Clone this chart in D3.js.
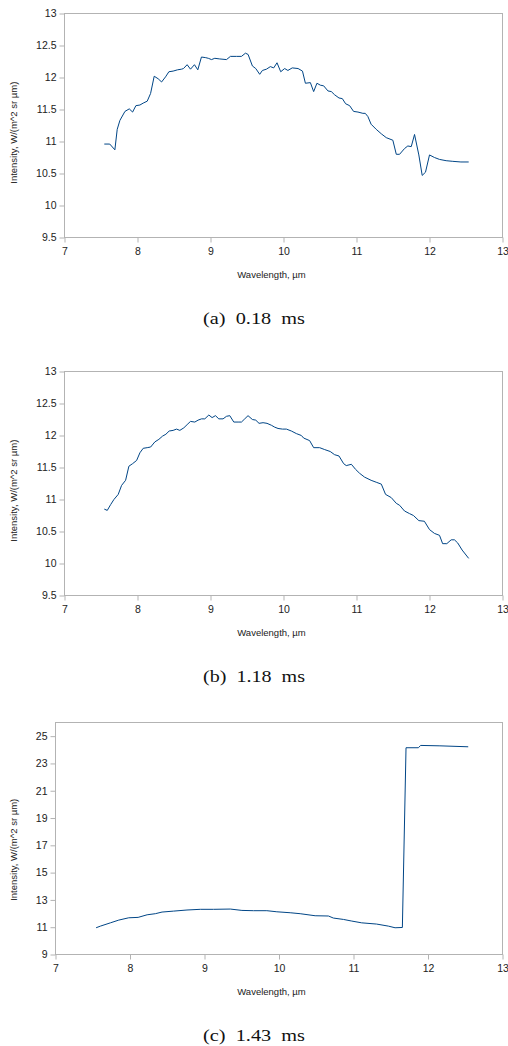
<!DOCTYPE html>
<html>
<head>
<meta charset="utf-8">
<script src="https://cdn.jsdelivr.net/npm/d3@7"></script>
<style>
  body { margin: 0; background: #fff; }
  svg { display: block; }
</style>
</head>
<body>
<svg id="canvas"></svg>
<script>
// wavelength (um) / intensity pairs
let wavelengthA = [7.545, 7.62, 7.69, 7.722, 7.759, 7.828, 7.887, 7.933, 7.978, 8.033, 8.078, 8.133, 8.179, 8.229, 8.283, 8.33, 8.384, 8.43, 8.488, 8.548, 8.603, 8.63, 8.68, 8.726, 8.78, 8.826, 8.876, 8.935, 8.97, 9.014, 9.059, 9.127, 9.219, 9.273, 9.355, 9.424, 9.479, 9.515, 9.574, 9.62, 9.674, 9.711, 9.766, 9.82, 9.866, 9.911, 9.962, 10.016, 10.06, 10.12, 10.2, 10.26, 10.30, 10.368, 10.413, 10.458, 10.505, 10.55, 10.609, 10.655, 10.70, 10.76, 10.806, 10.851, 10.906, 10.96, 11.02, 11.087, 11.12, 11.156, 11.2, 11.27, 11.34, 11.408, 11.498, 11.545, 11.59, 11.658, 11.703, 11.75, 11.795, 11.854, 11.9, 11.945, 12.0, 12.068, 12.137, 12.228, 12.319, 12.43, 12.537]
let intensityA = [10.96, 10.96, 10.87, 11.19, 11.33, 11.47, 11.51, 11.46, 11.56, 11.57, 11.60, 11.63, 11.75, 12.02, 11.98, 11.93, 12.01, 12.09, 12.10, 12.12, 12.13, 12.14, 12.20, 12.13, 12.20, 12.12, 12.32, 12.31, 12.30, 12.28, 12.30, 12.29, 12.28, 12.33, 12.33, 12.33, 12.38, 12.36, 12.18, 12.14, 12.05, 12.11, 12.13, 12.17, 12.15, 12.23, 12.09, 12.14, 12.11, 12.15, 12.14, 12.10, 11.91, 11.92, 11.78, 11.91, 11.88, 11.87, 11.79, 11.78, 11.73, 11.68, 11.67, 11.59, 11.56, 11.47, 11.46, 11.44, 11.44, 11.39, 11.27, 11.19, 11.12, 11.06, 11.02, 10.80, 10.80, 10.89, 10.93, 10.92, 11.11, 10.79, 10.47, 10.52, 10.79, 10.75, 10.72, 10.70, 10.69, 10.68, 10.68]

let wavelengthB = [7.545, 7.586, 7.632, 7.677, 7.736, 7.782, 7.837, 7.882, 7.933, 7.988, 8.033, 8.078, 8.133, 8.18, 8.238, 8.293, 8.343, 8.389, 8.434, 8.488, 8.535, 8.58, 8.635, 8.68, 8.726, 8.785, 8.83, 8.877, 8.922, 8.977, 9.022, 9.068, 9.114, 9.172, 9.219, 9.264, 9.319, 9.378, 9.424, 9.469, 9.514, 9.574, 9.62, 9.665, 9.72, 9.774, 9.834, 9.88, 9.925, 9.985, 10.04, 10.108, 10.176, 10.245, 10.276, 10.358, 10.413, 10.495, 10.564, 10.64, 10.70, 10.76, 10.824, 10.86, 10.93, 10.988, 11.042, 11.11, 11.2, 11.27, 11.34, 11.398, 11.476, 11.545, 11.59, 11.658, 11.726, 11.78, 11.854, 11.93, 12.0, 12.068, 12.137, 12.18, 12.237, 12.297, 12.342, 12.387, 12.447, 12.537]
let intensityB = [10.85, 10.83, 10.92, 11.0, 11.08, 11.22, 11.30, 11.52, 11.56, 11.61, 11.73, 11.80, 11.81, 11.82, 11.90, 11.94, 11.99, 12.02, 12.07, 12.08, 12.10, 12.08, 12.12, 12.17, 12.22, 12.21, 12.24, 12.26, 12.26, 12.32, 12.28, 12.31, 12.26, 12.26, 12.30, 12.31, 12.21, 12.21, 12.21, 12.26, 12.31, 12.25, 12.24, 12.19, 12.20, 12.19, 12.16, 12.13, 12.11, 12.10, 12.10, 12.07, 12.03, 12.0, 11.96, 11.92, 11.81, 11.81, 11.78, 11.75, 11.70, 11.68, 11.56, 11.53, 11.55, 11.47, 11.41, 11.35, 11.30, 11.27, 11.24, 11.08, 11.03, 10.94, 10.91, 10.82, 10.78, 10.75, 10.67, 10.66, 10.53, 10.47, 10.44, 10.31, 10.31, 10.37, 10.37, 10.32, 10.21, 10.08]

let wavelengthC = [7.545, 7.603, 7.737, 7.849, 7.983, 8.109, 8.23, 8.34, 8.43, 8.586, 8.765, 8.944, 9.122, 9.346, 9.502, 9.658, 9.837, 9.971, 10.15, 10.284, 10.485, 10.664, 10.73, 10.865, 10.977, 11.11, 11.31, 11.468, 11.558, 11.656, 11.705, 11.87, 11.902, 12.16, 12.54]
let intensityC = [10.96, 11.08, 11.32, 11.52, 11.69, 11.72, 11.91, 11.99, 12.11, 12.18, 12.26, 12.31, 12.31, 12.33, 12.23, 12.21, 12.21, 12.13, 12.06, 11.99, 11.84, 11.82, 11.67, 11.57, 11.45, 11.32, 11.23, 11.08, 10.96, 10.98, 24.15, 24.15, 24.32, 24.29, 24.22]

let xTicks = [7, 8, 9, 10, 11, 12, 13]
let yTicksAB = [9.5, 10, 10.5, 11, 11.5, 12, 12.5, 13]
let yTicksC = [9, 11, 13, 15, 17, 19, 21, 23, 25]
let captions = ["(a)  0.18  ms", "(b)  1.18  ms", "(c)  1.43  ms"]

const width = 508
const height = 1046
const frameColor = '#b3b3b3'
const lineColor = '#004586'
const sans = 'Liberation Sans'

let canvas = d3.select('#canvas')
  .attr('width', width)
  .attr('height', height)

let panels = [
  { xs: wavelengthA, ys: intensityA, yTicks: yTicksAB, yDomain: [9.5, 13], left: 64.5, top: 13.5, bottom: 237.5, titleY: 132.7, caption: captions[0] },
  { xs: wavelengthB, ys: intensityB, yTicks: yTicksAB, yDomain: [9.5, 13], left: 64.5, top: 371.5, bottom: 595.5, titleY: 490.7, caption: captions[1] },
  { xs: wavelengthC, ys: intensityC, yTicks: yTicksC, yDomain: [9, 26], left: 55.5, top: 722.5, bottom: 954.5, titleY: 849.8, caption: captions[2] }
]

let drawPanel = (p) => {
  let right = 502.5
  let xScale = d3.scaleLinear().domain([7, 13]).range([p.left, right])
  let yScale = d3.scaleLinear().domain(p.yDomain).range([p.bottom, p.top])
  let g = canvas.append('g')

  // frame
  g.append('rect')
    .attr('x', p.left).attr('y', p.top)
    .attr('width', right - p.left).attr('height', p.bottom - p.top)
    .attr('fill', 'none').attr('stroke', frameColor)

  let xAxis = d3.axisBottom(xScale).tickValues(xTicks).tickSize(5).tickPadding(5).tickFormat(d3.format('d'))
  let yAxis = d3.axisLeft(yScale).tickValues(p.yTicks).tickSize(5).tickPadding(3).tickFormat(d => String(d))

  let gx = g.append('g')
    .attr('transform', `translate(0, ${p.bottom})`)
    .call(xAxis)
  let gy = g.append('g')
    .attr('transform', `translate(${p.left}, 0)`)
    .call(yAxis)

  ;[gx, gy].forEach(a => {
    a.select('.domain').remove()
    a.selectAll('line').attr('stroke', frameColor)
    a.selectAll('text')
      .attr('fill', '#222')
      .attr('font-family', sans)
      .attr('font-size', 10.5)
  })

  let line = d3.line()
    .x((d, i) => xScale(p.xs[i]))
    .y((d, i) => yScale(p.ys[i]))

  g.append('path')
    .datum(p.xs)
    .attr('d', line)
    .attr('fill', 'none')
    .attr('stroke', lineColor)
    .attr('stroke-width', 1)
    .attr('stroke-linejoin', 'round')

  g.append('text')
    .attr('x', 271.5).attr('y', p.bottom + 40)
    .attr('text-anchor', 'middle')
    .attr('font-family', sans)
    .attr('font-size', 9.5)
    .attr('fill', '#222')
    .text('Wavelength, µm')

  g.append('text')
    .attr('transform', `translate(17, ${p.titleY}) rotate(-90)`)
    .attr('text-anchor', 'middle')
    .attr('font-family', sans)
    .attr('font-size', 9.5)
    .attr('fill', '#222')
    .text('Intensity, W/(m^2 sr µm)')

  g.append('text')
    .attr('x', 203).attr('y', p.bottom + 86)
    .attr('textLength', 102)
    .attr('lengthAdjust', 'spacingAndGlyphs')
    .attr('font-family', 'Liberation Serif')
    .attr('font-size', 16)
    .style('white-space', 'pre')
    .attr('fill', '#111')
    .text(p.caption)
}

panels.forEach(drawPanel)
</script>
</body>
</html>
